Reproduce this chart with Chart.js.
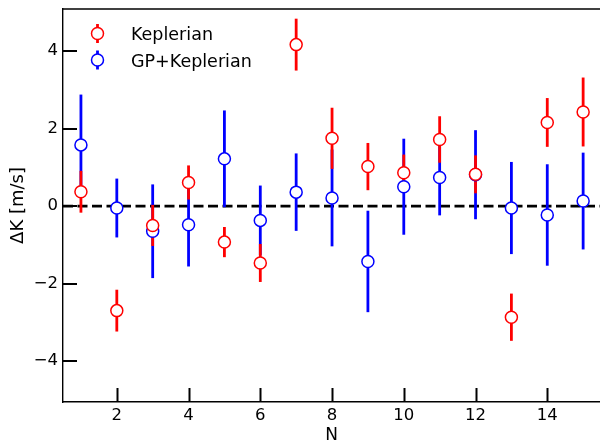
<!DOCTYPE html>
<html>
<head>
<meta charset="utf-8">
<script src="https://cdn.jsdelivr.net/npm/chart.js@4.4.1/dist/chart.umd.min.js"></script>
<style>
  html, body { margin: 0; padding: 0; background: #fff; }
  #wrap { width: 600px; height: 445px; }
</style>
</head>
<body>
<div id="wrap"><canvas id="chart"></canvas></div>
<script>
// planet index
const nValues = [1, 2, 3, 4, 5, 6, 7, 8, 9, 10, 11, 12, 13, 14, 15];

// Keplerian only fit
const keplerianDK = [0.37, -2.70, -0.50, 0.61, -0.93, -1.47, 4.17, 1.75, 1.02, 0.86, 1.72, 0.82, -2.87, 2.16, 2.43];
const keplerianErr = [0.54, 0.54, 0.53, 0.44, 0.39, 0.49, 0.67, 0.79, 0.61, 0.47, 0.60, 0.49, 0.61, 0.63, 0.89];

// GP + Keplerian fit
const gpDK = [1.58, -0.05, -0.65, -0.48, 1.22, -0.37, 0.36, 0.21, -1.43, 0.50, 0.74, 0.81, -0.05, -0.23, 0.13];
const gpErr = [1.30, 0.76, 1.21, 1.08, 1.25, 0.90, 1.00, 1.25, 1.31, 1.24, 0.98, 1.15, 1.19, 1.31, 1.25];

const xTicks = [2, 4, 6, 8, 10, 12, 14];
const yTicks = [-4, -2, 0, 2, 4];
const zeroLevel = 0;

const RED = '#ff0000';
const BLUE = '#0000ff';
const FONT = "'DejaVu Sans', sans-serif";

function points(ys) {
  return nValues.map((n, i) => ({ x: n, y: ys[i] }));
}

function minusSign(v) {
  return v < 0 ? '\u2212' + Math.abs(v) : String(v);
}

// dashed zero line + vertical error bars, under the markers
const errorBars = {
  id: 'errorBars',
  beforeDatasetsDraw(chart) {
    const { ctx, chartArea, scales: { x, y } } = chart;
    ctx.save();
    ctx.beginPath();
    ctx.rect(chartArea.left, chartArea.top, chartArea.right - chartArea.left, chartArea.bottom - chartArea.top);
    ctx.clip();

    ctx.strokeStyle = '#000';
    ctx.lineWidth = 2.6;
    ctx.setLineDash([10, 4.5]);
    ctx.beginPath();
    ctx.moveTo(chartArea.left, y.getPixelForValue(zeroLevel));
    ctx.lineTo(chartArea.right, y.getPixelForValue(zeroLevel));
    ctx.stroke();
    ctx.setLineDash([]);

    const sets = [[gpDK, gpErr, BLUE], [keplerianDK, keplerianErr, RED]];
    ctx.lineWidth = 2.8;
    sets.forEach(([vals, errs, col]) => {
      ctx.strokeStyle = col;
      nValues.forEach((n, i) => {
        const px = x.getPixelForValue(n);
        ctx.beginPath();
        ctx.moveTo(px, y.getPixelForValue(vals[i] + errs[i]));
        ctx.lineTo(px, y.getPixelForValue(vals[i] - errs[i]));
        ctx.stroke();
      });
    });
    ctx.restore();
  }
};

// inward tick marks, top spine, legend
const frame = {
  id: 'frame',
  afterDraw(chart) {
    const { ctx, chartArea, scales: { x, y } } = chart;
    ctx.save();
    ctx.strokeStyle = '#000';
    ctx.lineWidth = 2;
    x.ticks.forEach(t => {
      const px = Math.round(x.getPixelForValue(t.value)) + 0.5;
      ctx.beginPath();
      ctx.moveTo(px, chartArea.bottom);
      ctx.lineTo(px, chartArea.bottom - 14);
      ctx.stroke();
    });
    y.ticks.forEach(t => {
      const py = Math.round(y.getPixelForValue(t.value));
      ctx.beginPath();
      ctx.moveTo(chartArea.left, py);
      ctx.lineTo(chartArea.left + 14, py);
      ctx.stroke();
    });
    ctx.lineWidth = 1.4;
    ctx.beginPath();
    ctx.moveTo(chartArea.left, chartArea.top);
    ctx.lineTo(chartArea.right, chartArea.top);
    ctx.stroke();

    // legend
    const items = [['Keplerian', RED, 33.5, 40], ['GP+Keplerian', BLUE, 60, 66.5]];
    items.forEach(([label, col, cy, base]) => {
      const cx = 97.5;
      ctx.strokeStyle = col;
      ctx.lineWidth = 2.8;
      ctx.beginPath();
      ctx.moveTo(cx, cy - 9.5);
      ctx.lineTo(cx, cy + 9.5);
      ctx.stroke();
      ctx.fillStyle = '#fff';
      ctx.lineWidth = 1.5;
      ctx.beginPath();
      ctx.arc(cx, cy, 6, 0, Math.PI * 2);
      ctx.fill();
      ctx.stroke();
      ctx.fillStyle = '#000';
      ctx.font = '17.5px ' + FONT;
      ctx.textAlign = 'left';
      ctx.textBaseline = 'alphabetic';
      ctx.fillText(label, 131, base);
    });
    ctx.restore();
  }
};

new Chart(document.getElementById('chart').getContext('2d'), {
  type: 'scatter',
  data: {
    datasets: [
      {
        label: 'Keplerian',
        data: points(keplerianDK),
        borderColor: RED,
        backgroundColor: '#fff',
        pointRadius: 6,
        pointBorderWidth: 1.5,
        pointHoverRadius: 6
      },
      {
        label: 'GP+Keplerian',
        data: points(gpDK),
        borderColor: BLUE,
        backgroundColor: '#fff',
        pointRadius: 6,
        pointBorderWidth: 1.5,
        pointHoverRadius: 6
      }
    ]
  },
  options: {
    responsive: true,
    maintainAspectRatio: false,
    animation: false,
    layout: { autoPadding: false, padding: { top: 9, right: 0, left: 0, bottom: 0 } },
    plugins: {
      legend: { display: false },
      tooltip: { enabled: false }
    },
    scales: {
      x: {
        type: 'linear',
        min: 0.5,
        max: 15.47,
        afterBuildTicks: s => { s.ticks = xTicks.map(v => ({ value: v })); },
        afterFit: s => { s.height = 43; s.paddingLeft = 0; s.paddingRight = 0; },
        grid: { display: false, drawTicks: false },
        border: { display: true, color: '#000', width: 1.4 },
        ticks: { color: '#000', padding: 4, font: { family: FONT, size: 16.5 }, maxRotation: 0 },
        title: { display: true, text: 'N', color: '#000', font: { family: FONT, size: 17 }, padding: { top: 0, bottom: -1 } }
      },
      y: {
        min: -5.06,
        max: 5.09,
        afterBuildTicks: s => { s.ticks = yTicks.map(v => ({ value: v })); },
        afterFit: s => { s.width = 63; s.paddingTop = 0; s.paddingBottom = 0; },
        grid: { display: false, drawTicks: false },
        border: { display: true, color: '#000', width: 1.4 },
        ticks: { color: '#000', padding: 5, font: { family: FONT, size: 16.5 }, callback: v => minusSign(v) },
        title: { display: true, text: '\u0394K [m/s]', color: '#000', font: { family: FONT, size: 18 }, padding: { top: 8, bottom: 0 } }
      }
    }
  },
  plugins: [errorBars, frame]
});
</script>
</body>
</html>
